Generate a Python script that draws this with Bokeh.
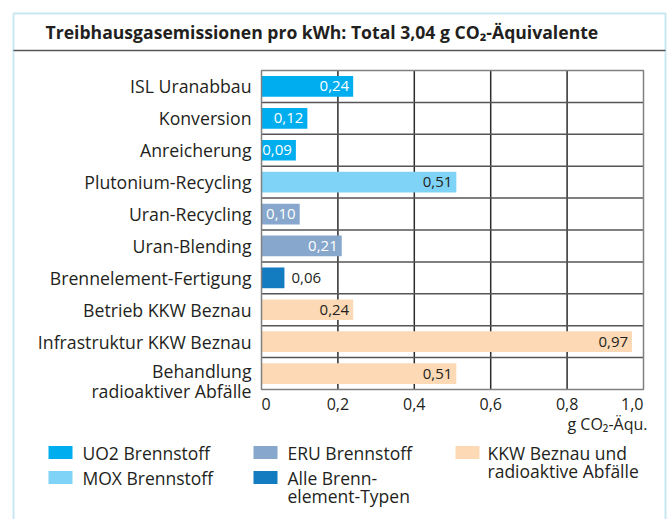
from bokeh.plotting import figure
from bokeh.models import Range1d
from bokeh.core.properties import value
from bokeh.embed import file_html
from bokeh.resources import INLINE

# ---- data ----
title = "Treibhausgasemissionen pro kWh: Total 3,04 g CO\u2082-Äquivalente"
categories = ["ISL Uranabbau", "Konversion", "Anreicherung", "Plutonium-Recycling",
              "Uran-Recycling", "Uran-Blending", "Brennelement-Fertigung",
              "Betrieb KKW Beznau", "Infrastruktur KKW Beznau",
              "Behandlung\nradioaktiver Abfälle"]
values = [0.24, 0.12, 0.09, 0.51, 0.10, 0.21, 0.06, 0.24, 0.97, 0.51]
groups = ["UO2", "UO2", "UO2", "MOX", "ERU", "ERU", "ALLE", "KKW", "KKW", "KKW"]
tick_values = [0, 0.2, 0.4, 0.6, 0.8, 1.0]
tick_labels = ["0", "0,2", "0,4", "0,6", "0,8", "1,0"]
axis_title = "g CO\u2082-Äqu."
legend_keys = ["UO2", "MOX", "ERU", "ALLE", "KKW"]
legend_labels = ["UO2 Brennstoff", "MOX Brennstoff", "ERU Brennstoff",
                 "Alle Brenn-\nelement-Typen", "KKW Beznau und\nradioaktive Abfälle"]

# ---- style ----
colors = {"UO2": "#00aeef", "MOX": "#7fd3f7", "ERU": "#87a7cc", "ALLE": "#137bbf", "KKW": "#fdd9b5"}
label_colors = {"UO2": "white", "MOX": "#231f20", "ERU": "white", "ALLE": "#231f20", "KKW": "#231f20"}
label_outside = [False, False, False, False, False, False, True, False, False, False]
TXT = "#231f20"
FONT = value("Open Sans")

W, H = 667, 519
X0, PXU = 261.0, 382.0      # canvas px of value 0, px per unit
Y0, ROWH = 70.0, 31.9       # canvas px of frame top, px per row


def dx(px):
    return (px - X0) / PXU


def dy(py):
    return (py - Y0) / ROWH


p = figure(width=W, height=H, output_backend="svg", toolbar_location=None,
           x_range=Range1d(dx(0), dx(W)), y_range=Range1d(dy(H), dy(0)),
           x_axis_location=None, y_axis_location=None, min_border=0)
p.grid.visible = False
p.outline_line_color = None
p.background_fill_color = "white"
p.border_fill_color = "white"

n = len(categories)

# outer box and title
p.quad(left=[dx(13)], right=[dx(665)], top=[dy(13)], bottom=[dy(560)],
       fill_color=None, line_color="#c8e8f1", line_width=2)
p.segment(x0=[dx(13)], x1=[dx(665)], y0=[dy(50)], y1=[dy(50)],
          line_color="#555555", line_width=1.5)
p.text(x=[dx(45)], y=[dy(31.5)], text=[title], text_font=FONT, text_font_size="17.6px",
       text_font_style="bold", text_color=TXT, text_align="left", text_baseline="middle")

# grid
inner_ticks = [t for t in tick_values if 0 < t < 1]
p.segment(x0=inner_ticks, x1=inner_ticks, y0=[0] * len(inner_ticks), y1=[n] * len(inner_ticks),
          line_color="#2b2b2b", line_width=1.5)
rows = list(range(1, n))
p.segment(x0=[0] * len(rows), x1=[1] * len(rows), y0=rows, y1=rows,
          line_color="#555555", line_width=1.5)

# bars
ys = [i + 0.5 for i in range(n)]
p.hbar(y=ys, left=0, right=values, height=0.65,
       fill_color=[colors[g] for g in groups], line_color=None)

# frame
p.quad(left=[0], right=[1], top=[0], bottom=[n], fill_color=None,
       line_color="#808080", line_width=1.5)

# value labels
fmt = [f"{v:.2f}".replace(".", ",") for v in values]
ins = [i for i in range(n) if not label_outside[i]]
outs = [i for i in range(n) if label_outside[i]]
p.text(x=[values[i] for i in ins], y=[ys[i] for i in ins], text=[fmt[i] for i in ins],
       text_color=[label_colors[groups[i]] for i in ins], x_offset=-4,
       text_font=FONT, text_font_size="15px", text_align="right", text_baseline="middle")
p.text(x=[values[i] for i in outs], y=[ys[i] for i in outs], text=[fmt[i] for i in outs],
       text_color=TXT, x_offset=7,
       text_font=FONT, text_font_size="15px", text_align="left", text_baseline="middle")

# category labels
lx, ly, lt = [], [], []
for i, c in enumerate(categories):
    parts = c.split("\n")
    for k, part in enumerate(parts):
        lx.append(dx(251))
        off = 0 if len(parts) == 1 else (-3 + 20 * k)
        ly.append(ys[i] + off / ROWH)
        lt.append(part)
p.text(x=lx, y=ly, text=lt, text_font=FONT, text_font_size="17.7px", text_color=TXT,
       text_align="right", text_baseline="middle")

# x tick labels
aligns = ["left"] + ["center"] * (len(tick_values) - 2) + ["right"]
for a in ("left", "center", "right"):
    idx = [i for i in range(len(tick_values)) if aligns[i] == a]
    p.text(x=[tick_values[i] for i in idx], y=[dy(403)] * len(idx),
           text=[tick_labels[i] for i in idx], text_font=FONT, text_font_size="16px",
           text_color=TXT, text_align=a, text_baseline="middle")
p.text(x=[dx(647)], y=[dy(423)], text=[axis_title], text_font=FONT, text_font_size="16px",
       text_color=TXT, text_align="right", text_baseline="middle")

# legend
col_sq = [60, 60, 265, 265, 467]
col_tx = [82, 82, 287, 287, 487]
row_y = [452, 477, 452, 477, 452]
p.rect(x=[dx(c) for c in col_sq], y=[dy(r) for r in row_y], width=24 / PXU, height=13 / ROWH,
       fill_color=[colors[k] for k in legend_keys], line_color=None)
gx, gy, gt = [], [], []
for j, lab in enumerate(legend_labels):
    for k, part in enumerate(lab.split("\n")):
        gx.append(dx(col_tx[j]))
        gy.append(dy(row_y[j] + 18.5 * k))
        gt.append(part)
p.text(x=gx, y=gy, text=gt, text_font=FONT, text_font_size="17.5px", text_color=TXT,
       text_align="left", text_baseline="middle")

open("out.html", "w").write(file_html(p, INLINE))
